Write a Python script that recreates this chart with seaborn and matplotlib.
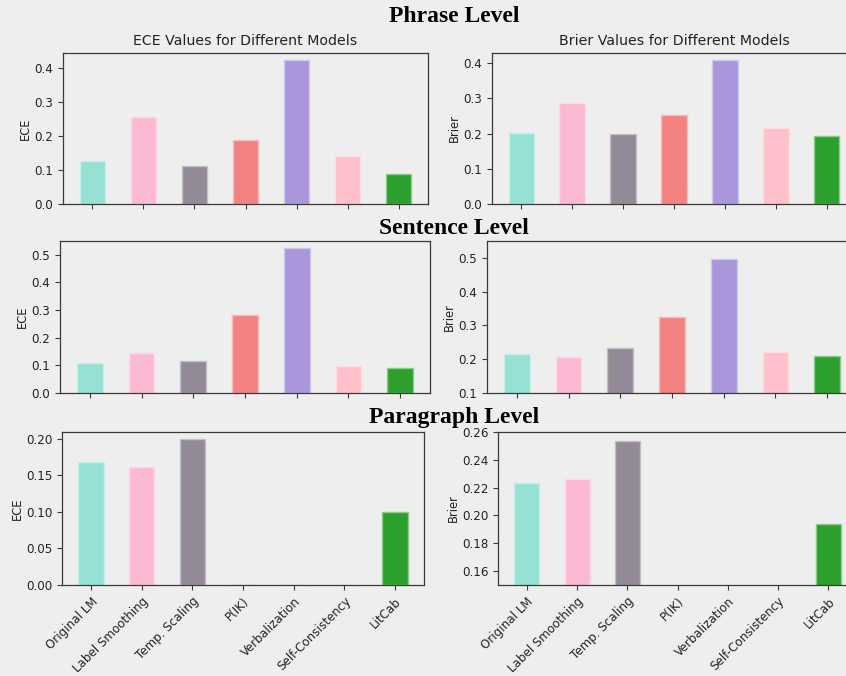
import matplotlib
matplotlib.use("Agg")
import matplotlib.pyplot as plt
import matplotlib.colors as mcolors
import numpy as np
import pandas as pd
import seaborn as sns

# ---- data -------------------------------------------------------------
models = ["Original LM", "Label Smoothing", "Temp. Scaling", "P(IK)",
          "Verbalization", "Self-Consistency", "LitCab"]
colors = ["#95E1D3", "#FCB9D3", "#928A97", "#F38181",
          "#AA96DA", "#FFC0CB", "#2CA02C"]

levels = ["Phrase Level", "Sentence Level", "Paragraph Level"]

phrase_ece = [0.127, 0.255, 0.113, 0.188, 0.423, 0.142, 0.089]
phrase_brier = [0.201, 0.286, 0.198, 0.253, 0.408, 0.215, 0.193]
sentence_ece = [0.107, 0.145, 0.115, 0.281, 0.524, 0.099, 0.090]
sentence_brier = [0.216, 0.208, 0.234, 0.325, 0.497, 0.220, 0.211]
paragraph_ece = [0.169, 0.161, 0.1995, 0.0, 0.0, 0.0, 0.1005]
paragraph_brier = [0.2236, 0.2265, 0.2535, 0.0, 0.0, 0.0, 0.1937]

ece_rows = [phrase_ece, sentence_ece, paragraph_ece]
brier_rows = [phrase_brier, sentence_brier, paragraph_brier]

# ---- style ------------------------------------------------------------
BG = "#eeeeee"
sns.set_style("ticks", {"axes.facecolor": BG, "figure.facecolor": BG,
                        "axes.edgecolor": "#3a3a3a"})
plt.rcParams["font.family"] = ["DejaVu Sans"]
plt.rcParams["text.color"] = "#222222"
plt.rcParams["axes.labelcolor"] = "#222222"
plt.rcParams["xtick.color"] = "#3a3a3a"
plt.rcParams["ytick.color"] = "#3a3a3a"
plt.rcParams["xtick.labelcolor"] = "#222222"
plt.rcParams["ytick.labelcolor"] = "#222222"

W, H = 846, 676
fig = plt.figure(figsize=(W / 100, H / 100), dpi=100, facecolor=BG)


def px_axes(x0, y0, x1, y1):
    """Create axes from pixel box (left, top, right, bottom)."""
    return fig.add_axes([x0 / W, 1 - y1 / H, (x1 - x0) / W, (y1 - y0) / H])


# axes boxes in pixels: (left, top, right, bottom)
boxes = [
    [(63, 53, 428, 204), (492, 53, 856, 204)],
    [(60, 241, 430, 393), (487, 241, 857, 393)],
    [(62, 432, 424, 585), (498, 432, 857, 585)],
]
title_baselines = [22, 234, 423]
brier_ylims = [None, (0.1, 0.55), (0.15, 0.26)]

palette = dict(zip(models, colors))


def draw(ax, values, ylabel, show_xlabels):
    df = pd.DataFrame({"model": models, "value": values})
    sns.barplot(data=df, x="model", y="value", hue="model", palette=palette,
                order=models, hue_order=models, width=0.5, saturation=1,
                legend=False, ax=ax, linewidth=1.0)
    for patch in ax.patches:
        fc = np.array(mcolors.to_rgb(patch.get_facecolor()))
        patch.set_edgecolor(tuple(fc * 0.55 + 0.45))
    ax.set_xlim(-0.575, 6.575)
    ax.set_xlabel("")
    ax.set_ylabel(ylabel, fontsize=8.3, labelpad=1.5)
    ax.tick_params(axis="y", labelsize=8.6, length=3.5, width=0.8)
    ax.tick_params(axis="x", labelsize=8.6, length=3.5, width=0.8)
    for s in ax.spines.values():
        s.set_linewidth(0.9)
        s.set_visible(True)
    ax.set_xticks(range(len(models)))
    if show_xlabels:
        ax.set_xticklabels(models, rotation=45, ha="right",
                           rotation_mode="anchor")
    else:
        ax.set_xticklabels([])


for r in range(3):
    (lbox, rbox) = boxes[r]
    axl = px_axes(*lbox)
    axr = px_axes(*rbox)
    last = r == 2
    draw(axl, ece_rows[r], "ECE", last)
    draw(axr, brier_rows[r], "Brier", last)
    if brier_ylims[r] is not None:
        axr.set_ylim(*brier_ylims[r])
    if r == 0:
        axl.set_title("ECE Values for Different Models", fontsize=10.2, pad=6)
        axr.set_title("Brier Values for Different Models", fontsize=10.2, pad=6)
    fig.text(454 / W, 1 - title_baselines[r] / H, levels[r],
             ha="center", va="baseline", fontsize=17, fontweight="bold",
             family=["Liberation Serif", "DejaVu Serif"], color="black")

fig.savefig("out.png", dpi=100, facecolor=BG)
